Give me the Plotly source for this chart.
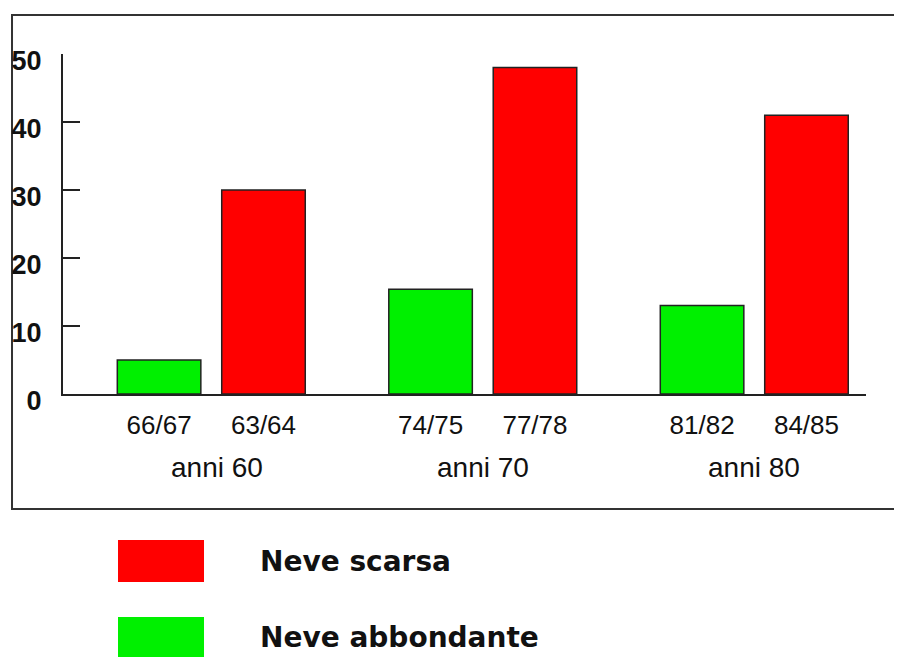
import plotly.graph_objects as go

groups = ["anni 60", "anni 70", "anni 80"]
abbondante_labels = ["66/67", "74/75", "81/82"]
scarsa_labels = ["63/64", "77/78", "84/85"]
abbondante_values = [5, 15.4, 13]
scarsa_values = [30, 48, 41]
y_ticks = [0, 10, 20, 30, 40, 50]

GREEN = "#00f000"
RED = "#ff0000"
GROUP_STEP = 2.6

x_green = [i * GROUP_STEP for i in range(len(groups))]
x_red = [i * GROUP_STEP + 1 for i in range(len(groups))]

fig = go.Figure()
fig.add_trace(go.Bar(x=x_green, y=abbondante_values, width=0.8, name="Neve abbondante",
                     marker=dict(color=GREEN, line=dict(color="#222222", width=1.5))))
fig.add_trace(go.Bar(x=x_red, y=scarsa_values, width=0.8, name="Neve scarsa",
                     marker=dict(color=RED, line=dict(color="#222222", width=1.5))))

tickvals = []
ticktext = []
for i in range(len(groups)):
    tickvals += [x_green[i], x_red[i]]
    ticktext += [abbondante_labels[i], scarsa_labels[i]]

fig.update_layout(
    width=894, height=649,
    margin=dict(l=55, r=36, t=46, b=263, autoexpand=False),
    paper_bgcolor="white", plot_bgcolor="white",
    showlegend=False,
    font=dict(family="Liberation Sans, Arial", color="#111111"),
    xaxis=dict(range=[-0.92, 6.77], tickvals=tickvals, ticktext=ticktext, automargin=False,
               showgrid=False, zeroline=False, showline=True, linecolor="#222222",
               linewidth=2, ticks="", tickfont=dict(size=26), ticklabelstandoff=7),
    yaxis=dict(range=[0, 50], tickvals=y_ticks, ticktext=["<b>%d</b>" % v for v in y_ticks],
               automargin=False, showgrid=False, zeroline=False,
               showline=True, linecolor="#222222", linewidth=2, ticks="inside",
               ticklen=17, tickwidth=2, tickcolor="#222222",
               tickfont=dict(size=27, family="Liberation Sans, Arial"),
               ticklabelstandoff=14, ticklabelshift=7),
)

for i, g in enumerate(groups):
    fig.add_annotation(x=(x_green[i] + x_red[i]) / 2, y=-0.2176, xref="x", yref="paper",
                       text=g, showarrow=False, font=dict(size=28), yanchor="middle",
                       xshift=6 if i == 0 else 0)

# outer frame
fig.add_shape(type="rect", xref="paper", yref="paper", x0=-0.0635, x1=1.06, y0=-0.338, y1=1.115,
              line=dict(color="#333333", width=2), layer="below")

# legend
legend_items = [("Neve scarsa", RED, -0.4294, -0.5529, -0.494),
                ("Neve abbondante", GREEN, -0.6559, -0.79, -0.7176)]
for name, col, y1, y0, ty in legend_items:
    fig.add_shape(type="rect", xref="paper", yref="paper", x0=0.0685, x1=0.1756, y0=y0, y1=y1,
                  fillcolor=col, line=dict(width=0))
    fig.add_annotation(x=0.2428, y=ty, xref="paper", yref="paper", text="<b>%s</b>" % name,
                       showarrow=False, xanchor="left", yanchor="middle",
                       font=dict(size=28, family="DejaVu Sans"))

fig.write_html("out.html")
